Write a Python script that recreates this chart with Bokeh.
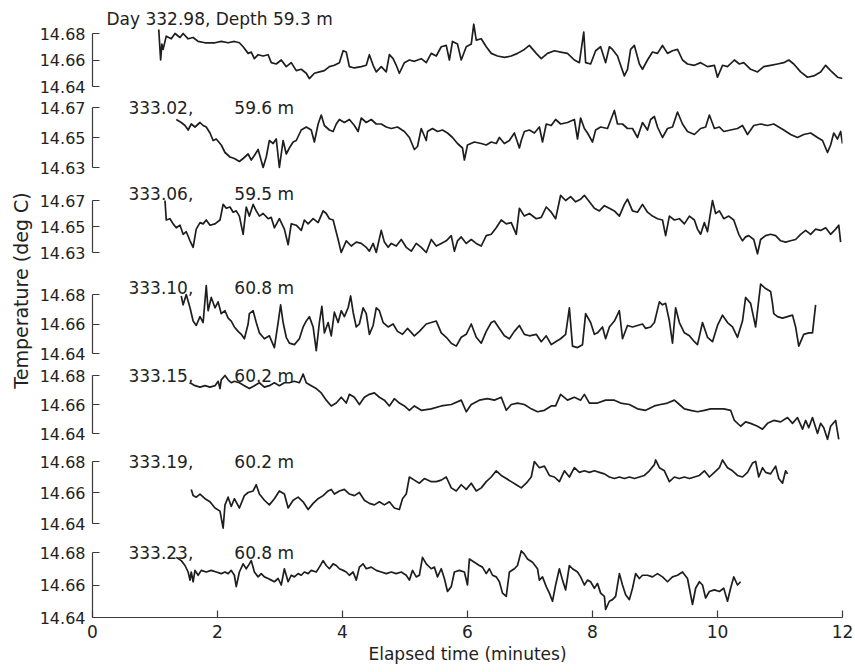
import math
from bokeh.plotting import figure
from bokeh.layouts import column, row
from bokeh.models import Range1d, FixedTicker, PrintfTickFormatter, Label
from bokeh.embed import file_html
from bokeh.resources import INLINE

# ---------------- data (elapsed minutes, temperature deg C) ----------------
p1_time = [1.06,1.09,1.11,1.13,1.18,1.26,1.32,1.40,1.45,1.53,1.61,1.69,1.80,1.96,2.06,2.17,2.27,2.35,2.41,2.49,
           2.54,2.59,2.65,2.73,2.81,2.86,2.94,3.02,3.10,3.18,3.26,3.34,3.42,3.47,3.55,3.63,3.71,3.79,3.87,3.95,
           4.01,4.06,4.11,4.19,4.30,4.38,4.43,4.49,4.54,4.62,4.70,4.75,4.81,4.86,4.91,4.99,5.07,5.15,
           5.26,5.34,5.42,5.50,5.58,5.66,5.71,5.76,5.84,5.90,5.98,6.06,6.10,6.14,6.22,6.30,6.38,6.48,6.59,6.70,
           6.80,6.91,6.99,7.10,7.18,7.28,7.39,7.49,7.60,7.71,7.79,7.86,7.89,7.97,8.05,8.13,8.21,8.27,8.32,8.40,
           8.45,8.51,8.56,8.61,8.67,8.75,8.80,8.88,8.96,9.04,9.12,9.20,9.28,9.36,9.44,9.52,9.63,9.73,9.84,9.95,
           10.00,10.08,10.16,10.27,10.35,10.42,10.53,10.64,10.74,10.85,10.96,11.06,11.14,11.22,11.33,11.44,11.54,11.65,11.73,11.81,
           11.92,12.00]
p1_temp = [14.683,14.660,14.672,14.668,14.678,14.676,14.680,14.677,14.680,14.676,14.677,14.674,14.673,14.673,14.674,14.673,14.674,14.673,14.670,14.665,
           14.666,14.661,14.664,14.663,14.664,14.658,14.657,14.660,14.655,14.658,14.652,14.653,14.650,14.646,14.650,14.651,14.652,14.655,14.656,14.658,
           14.667,14.666,14.655,14.654,14.655,14.656,14.664,14.656,14.651,14.655,14.651,14.664,14.661,14.656,14.650,14.658,14.660,14.659,
           14.661,14.658,14.665,14.663,14.670,14.671,14.660,14.674,14.672,14.660,14.670,14.672,14.687,14.675,14.676,14.670,14.665,14.663,14.662,14.663,
           14.665,14.668,14.671,14.665,14.661,14.665,14.667,14.666,14.665,14.660,14.658,14.681,14.658,14.657,14.667,14.670,14.658,14.670,14.668,14.663,
           14.656,14.648,14.653,14.668,14.671,14.657,14.653,14.660,14.666,14.665,14.671,14.665,14.667,14.668,14.660,14.657,14.656,14.658,14.655,14.656,
           14.647,14.656,14.655,14.660,14.657,14.658,14.653,14.651,14.655,14.656,14.657,14.658,14.660,14.657,14.651,14.647,14.648,14.651,14.656,14.652,
           14.647,14.646]

p2_time = [1.34,1.42,1.48,1.53,1.58,1.64,1.72,1.77,1.82,1.88,1.93,1.98,2.06,2.12,2.20,2.27,2.35,2.41,2.49,2.54,
           2.59,2.65,2.73,2.78,2.83,2.89,2.94,2.99,3.05,3.10,3.15,3.21,3.26,3.34,3.42,3.50,3.55,3.61,3.66,3.71,
           3.79,3.85,3.90,3.95,4.03,4.11,4.19,4.25,4.30,4.38,4.46,4.54,4.62,4.70,4.78,4.88,4.99,5.07,5.15,5.20,
           5.26,5.34,
           5.36,5.44,5.52,5.60,5.68,5.76,5.84,5.92,5.95,6.00,6.11,6.22,6.30,6.38,6.46,6.51,6.59,6.67,6.75,6.83,
           6.86,6.91,6.99,7.07,7.15,7.20,7.26,7.34,7.41,7.49,7.60,7.71,7.76,7.81,7.87,7.92,8.00,8.05,8.13,8.24,
           8.35,8.40,8.48,8.56,8.64,8.72,8.80,8.88,8.93,8.99,9.04,9.12,9.20,9.28,9.36,9.44,9.52,9.63,9.73,9.81,
           9.87,9.95,10.03,10.10,10.21,10.32,10.40,10.48,10.58,10.69,10.80,10.90,10.98,11.06,11.17,11.28,11.38,11.49,11.60,11.68,
           11.76,11.81,11.86,11.92,11.97,12.00]
p2_temp = [14.662,14.660,14.658,14.655,14.659,14.657,14.660,14.658,14.657,14.653,14.648,14.649,14.645,14.640,14.637,14.636,14.634,14.636,14.639,14.635,
           14.638,14.642,14.630,14.637,14.648,14.646,14.649,14.630,14.648,14.639,14.643,14.647,14.648,14.655,14.657,14.655,14.647,14.659,14.665,14.658,
           14.655,14.654,14.659,14.662,14.660,14.662,14.658,14.654,14.663,14.660,14.662,14.659,14.659,14.657,14.656,14.657,14.654,14.650,14.642,14.644,
           14.656,14.648,
           14.654,14.656,14.654,14.655,14.653,14.650,14.646,14.643,14.635,14.645,14.647,14.646,14.645,14.647,14.646,14.650,14.646,14.648,14.653,14.643,
           14.648,14.654,14.655,14.653,14.657,14.647,14.659,14.658,14.662,14.659,14.660,14.662,14.649,14.663,14.656,14.653,14.647,14.655,14.657,14.656,
           14.668,14.659,14.659,14.656,14.656,14.650,14.660,14.655,14.662,14.664,14.657,14.650,14.656,14.657,14.667,14.659,14.654,14.652,14.656,14.657,
           14.665,14.656,14.657,14.654,14.655,14.656,14.658,14.652,14.658,14.659,14.658,14.659,14.657,14.655,14.652,14.650,14.652,14.653,14.650,14.648,
           14.640,14.645,14.653,14.649,14.654,14.646]

p3_time = [1.16,1.18,1.24,1.29,1.34,1.40,1.45,1.50,1.56,1.61,1.66,1.72,1.77,1.82,1.88,1.96,2.04,2.09,2.14,2.20,
           2.25,2.30,2.35,2.41,2.46,2.51,2.57,2.62,2.67,2.73,2.81,2.86,2.91,2.99,3.07,3.13,3.18,3.26,3.34,3.39,
           3.45,3.53,3.61,3.69,3.74,3.79,3.85,3.93,3.98,4.06,4.14,4.22,4.30,4.38,4.43,4.49,4.54,4.62,4.67,4.73,
           4.78,4.86,4.94,5.02,5.10,5.18,5.26,5.34,
           5.42,5.50,5.58,5.66,5.74,5.79,5.84,5.90,5.98,6.06,6.14,6.22,6.30,6.38,6.46,6.54,6.62,6.70,6.78,6.83,
           6.91,6.99,7.10,7.18,7.26,7.34,7.41,7.49,7.57,7.65,7.73,7.81,7.87,7.95,8.03,8.11,8.19,8.27,8.35,8.43,
           8.51,8.56,8.64,8.72,8.80,8.88,8.96,9.04,9.12,9.17,9.23,9.31,9.39,9.47,9.55,9.63,9.68,9.73,9.79,9.84,
           9.92,9.97,10.03,10.10,10.18,10.26,10.34,10.40,10.45,10.50,10.58,10.64,10.69,10.77,10.85,10.93,11.01,11.09,11.17,11.25,
           11.33,11.41,11.49,11.57,11.65,11.73,11.81,11.89,11.94,11.97]
p3_temp = [14.670,14.655,14.656,14.652,14.649,14.651,14.644,14.646,14.639,14.634,14.648,14.653,14.652,14.655,14.651,14.652,14.655,14.667,14.664,14.665,
           14.661,14.662,14.658,14.644,14.665,14.658,14.667,14.662,14.658,14.660,14.656,14.657,14.649,14.656,14.648,14.636,14.652,14.651,14.647,14.655,
           14.652,14.656,14.653,14.662,14.660,14.656,14.655,14.640,14.630,14.639,14.635,14.638,14.637,14.634,14.631,14.637,14.630,14.647,14.638,14.634,
           14.637,14.635,14.640,14.634,14.631,14.637,14.634,14.630,
           14.640,14.635,14.637,14.639,14.643,14.631,14.639,14.642,14.637,14.640,14.637,14.635,14.643,14.644,14.649,14.655,14.652,14.653,14.644,14.664,
           14.658,14.660,14.656,14.657,14.665,14.661,14.656,14.674,14.670,14.673,14.669,14.671,14.674,14.669,14.664,14.662,14.666,14.664,14.662,14.658,
           14.667,14.671,14.662,14.661,14.667,14.661,14.658,14.656,14.655,14.643,14.658,14.655,14.656,14.652,14.658,14.655,14.648,14.644,14.653,14.646,
           14.670,14.660,14.662,14.656,14.658,14.655,14.644,14.639,14.642,14.643,14.640,14.629,14.640,14.643,14.644,14.643,14.639,14.638,14.639,14.640,
           14.644,14.647,14.644,14.648,14.647,14.649,14.644,14.648,14.651,14.638]

p4_time = [1.42,1.45,1.50,1.56,1.61,1.66,1.72,1.77,1.82,1.85,1.90,1.96,2.01,2.06,2.12,2.17,2.22,2.27,2.33,2.38,
           2.43,2.49,2.51,2.57,2.62,2.67,2.75,2.83,2.91,2.97,3.01,3.05,3.10,3.15,3.23,3.31,3.37,3.42,3.47,3.53,
           3.58,3.63,3.67,3.71,3.77,3.82,3.87,3.93,3.98,4.03,4.09,4.13,4.17,4.22,4.27,4.33,4.38,4.43,4.49,4.54,
           4.59,4.65,4.73,4.81,4.88,4.96,5.04,5.15,5.23,
           5.34,5.42,5.50,5.58,5.66,5.74,5.82,5.90,5.98,6.06,6.14,6.22,6.30,6.38,6.43,6.51,6.59,6.67,6.75,6.83,
           6.91,6.99,7.10,7.18,7.26,7.34,7.41,7.49,7.57,7.63,7.68,7.76,7.84,7.89,7.97,8.03,8.08,8.16,8.21,8.27,
           8.35,8.43,8.48,8.56,8.64,8.72,8.80,8.85,8.93,8.99,9.07,9.12,9.17,9.23,9.28,9.33,9.39,9.47,9.55,9.63,
           9.68,9.76,9.84,9.92,10.00,10.08,10.16,10.24,10.32,10.40,10.45,10.53,10.61,10.69,10.77,10.85,10.88,10.90,10.96,11.04,
           11.12,11.20,11.25,11.30,11.38,11.46,11.52,11.57]
p4_temp = [14.679,14.673,14.680,14.671,14.662,14.659,14.665,14.661,14.686,14.669,14.678,14.671,14.675,14.667,14.669,14.664,14.662,14.658,14.655,14.653,
           14.650,14.660,14.667,14.669,14.661,14.654,14.650,14.652,14.644,14.661,14.673,14.661,14.651,14.647,14.646,14.650,14.658,14.662,14.665,14.658,
           14.642,14.661,14.672,14.654,14.661,14.652,14.668,14.661,14.669,14.665,14.671,14.679,14.668,14.658,14.660,14.671,14.667,14.653,14.659,14.671,
           14.669,14.661,14.658,14.660,14.655,14.653,14.657,14.652,14.655,
           14.660,14.661,14.662,14.654,14.651,14.647,14.645,14.651,14.653,14.660,14.651,14.647,14.655,14.661,14.662,14.657,14.652,14.650,14.655,14.659,
           14.653,14.652,14.653,14.648,14.652,14.646,14.648,14.650,14.653,14.671,14.645,14.644,14.646,14.667,14.661,14.653,14.654,14.658,14.650,14.658,
           14.662,14.669,14.650,14.659,14.658,14.659,14.660,14.657,14.658,14.661,14.675,14.673,14.674,14.662,14.647,14.671,14.661,14.654,14.652,14.648,
           14.646,14.661,14.651,14.648,14.659,14.666,14.661,14.658,14.651,14.662,14.678,14.674,14.658,14.687,14.684,14.682,14.674,14.667,14.665,14.664,
           14.665,14.666,14.658,14.645,14.653,14.654,14.654,14.673]

p5_time = [1.56,1.64,1.72,1.80,1.88,1.96,2.01,2.04,2.06,2.12,2.17,2.22,2.27,2.35,2.43,2.51,2.59,2.67,2.75,2.83,
           2.91,2.99,3.07,3.15,3.23,3.31,3.37,3.42,3.50,3.58,3.66,3.74,3.82,3.90,3.98,4.06,4.11,4.19,4.27,4.35,
           4.43,4.51,4.59,4.67,4.75,4.83,4.91,4.99,5.07,5.15,5.26,
           5.42,5.58,5.74,5.90,5.98,6.06,6.19,6.32,6.43,6.54,6.62,6.70,6.80,6.91,7.02,7.12,7.23,7.34,7.41,7.49,
           7.60,7.71,7.81,7.87,7.95,8.08,8.21,8.35,8.45,8.59,8.72,8.85,8.99,9.09,9.20,9.31,9.39,9.47,9.57,9.68,
           9.79,9.89,10.00,10.10,10.21,
           10.27,10.37,10.45,10.53,10.64,10.72,10.80,10.90,11.01,11.12,11.20,11.28,11.36,11.41,11.46,11.52,11.60,11.65,11.70,11.76,
           11.81,11.89,11.94]
p5_temp = [14.675,14.673,14.672,14.673,14.672,14.673,14.676,14.671,14.677,14.680,14.677,14.675,14.676,14.675,14.673,14.671,14.673,14.675,14.672,14.673,
           14.675,14.673,14.675,14.675,14.676,14.675,14.681,14.675,14.673,14.671,14.668,14.663,14.659,14.661,14.665,14.661,14.667,14.665,14.660,14.665,
           14.667,14.668,14.665,14.663,14.659,14.664,14.661,14.659,14.656,14.659,14.656,
           14.657,14.659,14.660,14.663,14.655,14.660,14.663,14.664,14.663,14.665,14.656,14.660,14.661,14.660,14.657,14.655,14.656,14.659,14.659,14.667,
           14.663,14.665,14.663,14.667,14.661,14.661,14.663,14.663,14.661,14.660,14.657,14.656,14.659,14.660,14.661,14.663,14.660,14.657,14.656,14.655,
           14.656,14.657,14.657,14.657,14.656,
           14.649,14.645,14.648,14.647,14.645,14.643,14.647,14.649,14.648,14.651,14.647,14.651,14.643,14.649,14.644,14.651,14.640,14.647,14.644,14.636,
           14.645,14.649,14.636]

p6_time = [1.58,1.61,1.66,1.72,1.80,1.88,1.96,2.04,2.09,2.12,2.17,2.22,2.27,2.35,2.43,2.49,2.57,2.62,2.67,2.75,
           2.83,2.91,2.99,3.07,3.13,3.21,3.29,3.37,3.45,3.53,3.61,3.69,3.77,3.82,3.87,3.95,4.03,4.11,4.19,4.27,
           4.35,4.43,4.51,4.59,4.67,4.75,4.83,4.91,4.96,5.02,5.07,5.15,5.23,5.31,5.42,
           5.50,5.58,5.66,5.74,5.82,5.90,5.98,6.06,6.14,6.22,6.30,6.38,6.46,6.54,6.62,6.70,6.78,6.86,6.94,7.02,
           7.07,7.15,7.23,7.31,7.39,7.47,7.55,7.63,7.71,7.79,7.87,7.95,8.03,8.11,8.19,8.27,8.35,8.43,8.51,8.59,
           8.67,8.75,8.83,8.91,8.99,9.01,9.07,9.15,9.23,9.31,9.39,9.47,9.55,9.63,9.71,9.79,9.87,9.95,10.03,10.08,
           10.16,10.24,10.32,10.40,10.48,10.56,10.61,10.66,10.72,10.77,10.85,10.93,10.98,11.04,11.09,11.12]
p6_temp = [14.662,14.658,14.657,14.659,14.656,14.654,14.650,14.648,14.637,14.652,14.657,14.651,14.656,14.650,14.658,14.660,14.661,14.665,14.659,14.655,
           14.652,14.656,14.661,14.659,14.650,14.655,14.657,14.654,14.649,14.653,14.656,14.658,14.661,14.662,14.659,14.661,14.662,14.659,14.658,14.660,
           14.655,14.653,14.652,14.654,14.652,14.654,14.650,14.649,14.656,14.659,14.670,14.668,14.666,14.669,14.667,
           14.667,14.668,14.670,14.663,14.661,14.665,14.662,14.666,14.661,14.663,14.667,14.670,14.674,14.671,14.669,14.667,14.665,14.663,14.666,14.670,
           14.680,14.676,14.677,14.671,14.670,14.667,14.674,14.670,14.676,14.673,14.674,14.673,14.674,14.673,14.672,14.670,14.669,14.670,14.669,14.670,
           14.669,14.670,14.671,14.674,14.678,14.681,14.676,14.674,14.667,14.670,14.669,14.670,14.669,14.670,14.671,14.674,14.670,14.673,14.676,14.681,
           14.676,14.674,14.671,14.670,14.673,14.679,14.680,14.670,14.676,14.673,14.672,14.677,14.669,14.666,14.674,14.672]

p7_time = [1.34,1.42,1.48,1.53,1.56,1.58,1.61,1.64,1.69,1.74,1.82,1.90,1.98,2.06,2.12,2.17,2.22,2.27,2.30,2.35,
           2.41,2.46,2.51,2.54,2.59,2.65,2.70,2.75,2.81,2.86,2.91,2.97,3.02,3.07,3.13,3.18,3.23,3.29,3.34,3.39,
           3.45,3.50,3.58,3.63,3.69,3.74,3.79,3.85,3.90,3.95,4.01,4.06,4.11,4.17,4.22,4.27,4.33,4.38,4.46,4.54,
           4.62,4.70,4.78,4.86,4.94,5.02,5.07,5.12,5.18,5.23,5.28,5.34,5.42,
           5.47,5.52,5.58,5.63,5.68,5.74,5.79,5.87,5.95,6.00,6.03,6.11,6.19,6.24,6.30,6.35,6.40,6.46,6.51,6.56,
           6.62,6.67,6.75,6.80,6.86,6.91,6.96,7.04,7.12,7.15,7.20,7.26,7.31,7.36,7.41,7.47,7.52,7.57,7.63,7.68,
           7.76,7.81,7.87,7.92,7.97,8.03,8.08,8.13,8.19,8.21,8.27,8.32,8.37,8.43,8.48,8.53,8.59,8.64,8.69,8.75,
           8.80,8.88,8.96,9.04,9.12,9.20,9.28,9.36,9.44,9.52,9.60,9.65,9.71,9.76,9.81,9.87,9.95,10.03,10.10,10.16,
           10.21,10.26,10.32,10.37]
p7_temp = [14.677,14.675,14.672,14.668,14.663,14.668,14.662,14.669,14.666,14.669,14.668,14.669,14.668,14.667,14.668,14.667,14.669,14.666,14.659,14.668,
           14.673,14.670,14.673,14.675,14.668,14.665,14.667,14.665,14.664,14.663,14.662,14.664,14.660,14.670,14.662,14.666,14.665,14.667,14.666,14.668,
           14.667,14.669,14.668,14.671,14.675,14.672,14.670,14.673,14.672,14.670,14.669,14.668,14.666,14.668,14.663,14.671,14.673,14.670,14.671,14.669,
           14.668,14.667,14.668,14.667,14.668,14.666,14.663,14.669,14.665,14.666,14.677,14.673,14.670,
           14.671,14.665,14.670,14.664,14.656,14.659,14.668,14.669,14.668,14.660,14.676,14.674,14.672,14.671,14.667,14.670,14.666,14.665,14.662,14.655,
           14.653,14.668,14.670,14.672,14.681,14.679,14.676,14.674,14.670,14.663,14.665,14.659,14.655,14.650,14.660,14.670,14.663,14.657,14.672,14.670,
           14.668,14.665,14.660,14.663,14.662,14.658,14.661,14.655,14.653,14.645,14.650,14.651,14.653,14.667,14.660,14.654,14.651,14.658,14.667,14.664,
           14.666,14.666,14.665,14.667,14.665,14.662,14.665,14.666,14.668,14.664,14.648,14.658,14.662,14.660,14.652,14.656,14.657,14.656,14.658,14.650,
           14.658,14.665,14.660,14.662]

times = [p1_time, p2_time, p3_time, p4_time, p5_time, p6_time, p7_time]
temps = [p1_temp, p2_temp, p3_temp, p4_temp, p5_temp, p6_temp, p7_temp]

day_labels = ["Day 332.98, Depth 59.3 m", "333.02,", "333.06,", "333.10,", "333.15,", "333.19,", "333.23,"]
depth_labels = ["", "59.6 m", "59.5 m", "60.8 m", "60.2 m", "60.2 m", "60.8 m"]
tick_lo = [14.64, 14.63, 14.63, 14.64, 14.64, 14.64, 14.64]
tick_hi = [14.68, 14.67, 14.67, 14.68, 14.68, 14.68, 14.68]
x_ticks = [0, 2, 4, 6, 8, 10, 12]

# ---------------- layout (pixels) ----------------
YL_W = 36
FIG_TOP = [0, 96, 183, 268, 362, 446, 536]
FIG_BOT = [96, 183, 268, 362, 446, 536, 672]
HI_PX = [33, 107, 200, 294, 375, 461, 552]
LO_PX = [86, 167, 252, 353, 433, 523, 617]
LABEL_DY = [15, 0, 7, 7, 0, 0, 0]
FONT = "DejaVu Sans"
INK = "#1e1e1e"
AX = "#3a3a3a"
TXT = "#222222"

figs = []
for i in range(7):
    ft, fb = FIG_TOP[i], FIG_BOT[i]
    last = (i == 6)
    frame_bot = LO_PX[i] if last else fb
    lo, hi = tick_lo[i], tick_hi[i]
    s = (hi - lo) / (LO_PX[i] - HI_PX[i])
    y_end = hi + (HI_PX[i] - ft) * s
    y_start = lo - (frame_bot - LO_PX[i]) * s
    p = figure(width=855 - YL_W, height=fb - ft, x_range=Range1d(0, 12), y_range=Range1d(y_start, y_end),
               toolbar_location=None, output_backend="svg",
               min_border_left=91 - YL_W, min_border_right=13, min_border_top=0,
               min_border_bottom=(672 - LO_PX[i]) if last else 0)
    p.outline_line_color = None
    p.grid.visible = False
    p.background_fill_color = "white"
    p.border_fill_color = "white"

    ya = p.yaxis[0]
    ya.bounds = (lo, hi)
    ya.ticker = FixedTicker(ticks=[lo, round((lo + hi) / 2, 2), hi])
    ya.formatter = PrintfTickFormatter(format="%.2f")
    ya.major_tick_in = 7
    ya.major_tick_out = 0
    ya.minor_tick_line_color = None
    ya.axis_line_color = AX
    ya.axis_line_width = 1.2
    ya.major_tick_line_color = AX
    ya.major_tick_line_width = 1.2
    ya.major_label_text_font = FONT
    ya.major_label_text_font_size = "16px"
    ya.major_label_text_color = TXT
    ya.major_label_standoff = 7

    xa = p.xaxis[0]
    if last:
        xa.bounds = (0, 12)
        xa.ticker = FixedTicker(ticks=x_ticks)
        xa.major_tick_in = 7
        xa.major_tick_out = 0
        xa.minor_tick_line_color = None
        xa.axis_line_color = AX
        xa.axis_line_width = 1.2
        xa.major_tick_line_color = AX
        xa.major_tick_line_width = 1.2
        xa.major_label_text_font = FONT
        xa.major_label_text_font_size = "17px"
        xa.major_label_text_color = TXT
        xa.major_label_standoff = 7
        xa.axis_label = "Elapsed time (minutes)"
        xa.axis_label_text_font = FONT
        xa.axis_label_text_font_size = "17px"
        xa.axis_label_text_font_style = "normal"
        xa.axis_label_text_color = TXT
        xa.axis_label_standoff = 3
    else:
        xa.visible = False

    p.line(times[i], temps[i], line_color=INK, line_width=1.7, line_join="round")

    x_day = 0.224 if i == 0 else 0.575
    p.add_layout(Label(x=x_day, y=hi, y_offset=LABEL_DY[i], text=day_labels[i],
                       text_font=FONT, text_font_size="17px", text_color=TXT,
                       text_baseline="middle", text_align="left"))
    if depth_labels[i]:
        p.add_layout(Label(x=2.269, y=hi, y_offset=LABEL_DY[i], text=depth_labels[i],
                           text_font=FONT, text_font_size="17px", text_color=TXT,
                           text_baseline="middle", text_align="left"))
    figs.append(p)

yl = figure(width=YL_W, height=672, x_range=Range1d(0, YL_W), y_range=Range1d(0, 672),
            toolbar_location=None, output_backend="svg", min_border=0)
yl.axis.visible = False
yl.grid.visible = False
yl.outline_line_color = None
yl.add_layout(Label(x=20, y=672 - 290, text="Temperature (deg C)", angle=math.pi / 2,
                    text_font=FONT, text_font_size="19px", text_color=TXT,
                    text_align="center", text_baseline="middle"))

layout = row(yl, column(*figs, spacing=0), spacing=0)

open("out.html", "w").write(file_html(layout, INLINE))
